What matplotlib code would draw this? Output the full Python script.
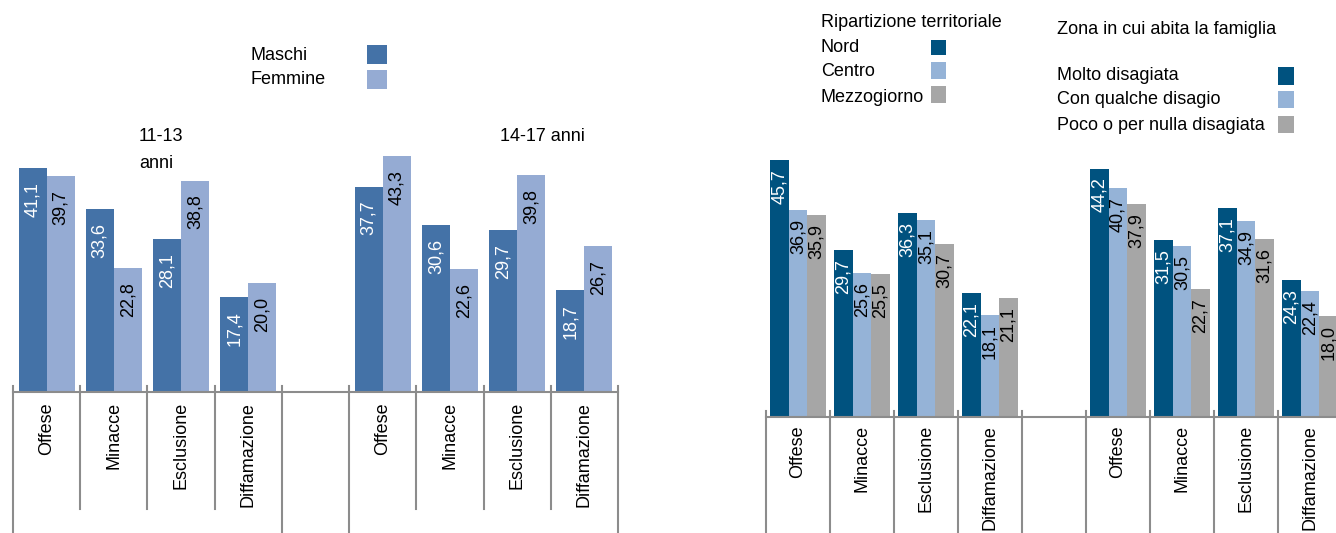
import matplotlib
matplotlib.use("Agg")
import matplotlib.pyplot as plt
from matplotlib.patches import Rectangle
from matplotlib import font_manager

# ─── Data ────────────────────────────────────────────────────────────────────
categories = ["Offese", "Minacce", "Esclusione", "Diffamazione"]
age_groups = ["11-13\nanni", "14-17 anni"]

maschi_11_13 = [41.1, 33.6, 28.1, 17.4]
femmine_11_13 = [39.7, 22.8, 38.8, 20.0]
maschi_14_17 = [37.7, 30.6, 29.7, 18.7]
femmine_14_17 = [43.3, 22.6, 39.8, 26.7]

rip_labels = ["Nord", "Centro", "Mezzogiorno"]
nord = [45.7, 29.7, 36.3, 22.1]
centro = [36.9, 25.6, 35.1, 18.1]
mezzogiorno = [35.9, 25.5, 30.7, 21.1]

zona_labels = ["Molto disagiata", "Con qualche disagio", "Poco o per nulla disagiata"]
molto = [44.2, 31.5, 37.1, 24.3]
qualche = [40.7, 30.5, 34.9, 22.4]
poco = [37.9, 22.7, 31.6, 18.0]

# ─── Style ───────────────────────────────────────────────────────────────────
W, H = 1336, 533
C_M, C_F = "#4472A7", "#95ABD3"
C_N, C_C, C_Z = "#00527F", "#95B3D7", "#A6A6A6"
GRID = "#8C8C8C"

names = {f.name for f in font_manager.fontManager.ttflist}
if "Liberation Sans Narrow" in names:
    plt.rcParams["font.family"] = ["Liberation Sans Narrow", "DejaVu Sans"]
    FS = 15
else:
    plt.rcParams["font.family"] = ["Liberation Sans", "DejaVu Sans"]
    FS = 13

fig = plt.figure(figsize=(W / 100, H / 100), dpi=100)
fig.patch.set_facecolor("white")


def px_axes(x0, x1, y_base, y_top):
    return fig.add_axes([x0 / W, 1 - y_base / H, (x1 - x0) / W, (y_base - y_top) / H])


def fig_text(x, y, s, **kw):
    fig.text(x / W, 1 - y / H, s, fontsize=FS, va="center", ha="left", **kw)


def fig_square(x0, y0, x1, y1, color):
    fig.patches.append(Rectangle((x0 / W, 1 - y1 / H), (x1 - x0) / W, (y1 - y0) / H,
                                 transform=fig.transFigure, color=color, lw=0))


def draw_panel(ax, series, colors, txt_colors, width, base_px, long_px, short_px,
               all_long, offset_px, lab_top_px):
    ax.set_xlim(0, 9)
    ax.axis("off")
    slots = [0, 1, 2, 3, 5, 6, 7, 8]
    n = len(series)
    for k, (vals, col, tc) in enumerate(zip(series, colors, txt_colors)):
        xs = [s + 0.5 + (k - (n - 1) / 2) * width for s in slots]
        ax.bar(xs, vals, width=width, color=col, edgecolor="none", clip_on=False)
        for x, v in zip(xs, vals):
            ax.annotate(f"{v:.1f}".replace(".", ","), (x, v), xytext=(0, -offset_px),
                        textcoords="offset pixels", rotation=90, ha="center", va="top",
                        color=tc, fontsize=FS)
    trans = ax.get_xaxis_transform()
    h_ax = ax.get_position().height * H
    ax.plot([0, 9], [0, 0], color=GRID, lw=1.5, transform=trans, clip_on=False)
    for t in range(10):
        longer = all_long or t in (0, 4, 5, 9)
        bot = long_px if longer else short_px
        ax.plot([t, t], [6 / h_ax, -(bot - base_px) / h_ax], color=GRID, lw=1.5,
                transform=trans, clip_on=False)
    for s, lab in zip(slots, categories * 2):
        ax.text(s + 0.5, -(lab_top_px - base_px) / h_ax, lab, rotation=90, ha="center",
                va="top", fontsize=FS, transform=trans)


# ─── Left panel: sex and age ─────────────────────────────────────────────────
axL = px_axes(13, 618, 392, 142)
axL.set_ylim(0, 250 / 5.45)
draw_panel(axL, [maschi_11_13 + maschi_14_17, femmine_11_13 + femmine_14_17],
           [C_M, C_F], ["white", "black"], 0.417, 392, 540, 509, False, 14, 402)

fig_text(139, 137, "11-13")
fig_text(139, 163, "anni")
fig_text(500, 137, age_groups[1])
fig_text(251, 55, "Maschi")
fig_text(251, 79, "Femmine")
fig_square(367, 45, 387, 64, C_M)
fig_square(367, 70, 387, 89, C_F)

# ─── Right panel: territory and zone ─────────────────────────────────────────
axR = px_axes(766, 1342, 417, 150)
axR.set_ylim(0, 267 / 5.62)
draw_panel(axR, [nord + molto, centro + qualche, mezzogiorno + poco],
           [C_N, C_C, C_Z], ["white", "black", "black"], 0.29, 417, 540, 540, True, 9, 425)

fig_text(821, 22, "Ripartizione territoriale")
for lab, y, (y0, y1), col in zip(rip_labels, [47, 72, 97], [(40, 55), (62, 79), (86, 103)],
                                 [C_N, C_C, C_Z]):
    fig_text(821, y, lab)
    fig_square(931, y0, 946, y1, col)

fig_text(1057, 29, "Zona in cui abita la famiglia")
for lab, y, (y0, y1), col in zip(zona_labels, [75, 100, 125], [(67, 85), (91, 108), (116, 133)],
                                 [C_N, C_C, C_Z]):
    fig_text(1057, y, lab)
    fig_square(1278, y0, 1294, y1, col)

fig.savefig("out.png", dpi=100, facecolor="white")
